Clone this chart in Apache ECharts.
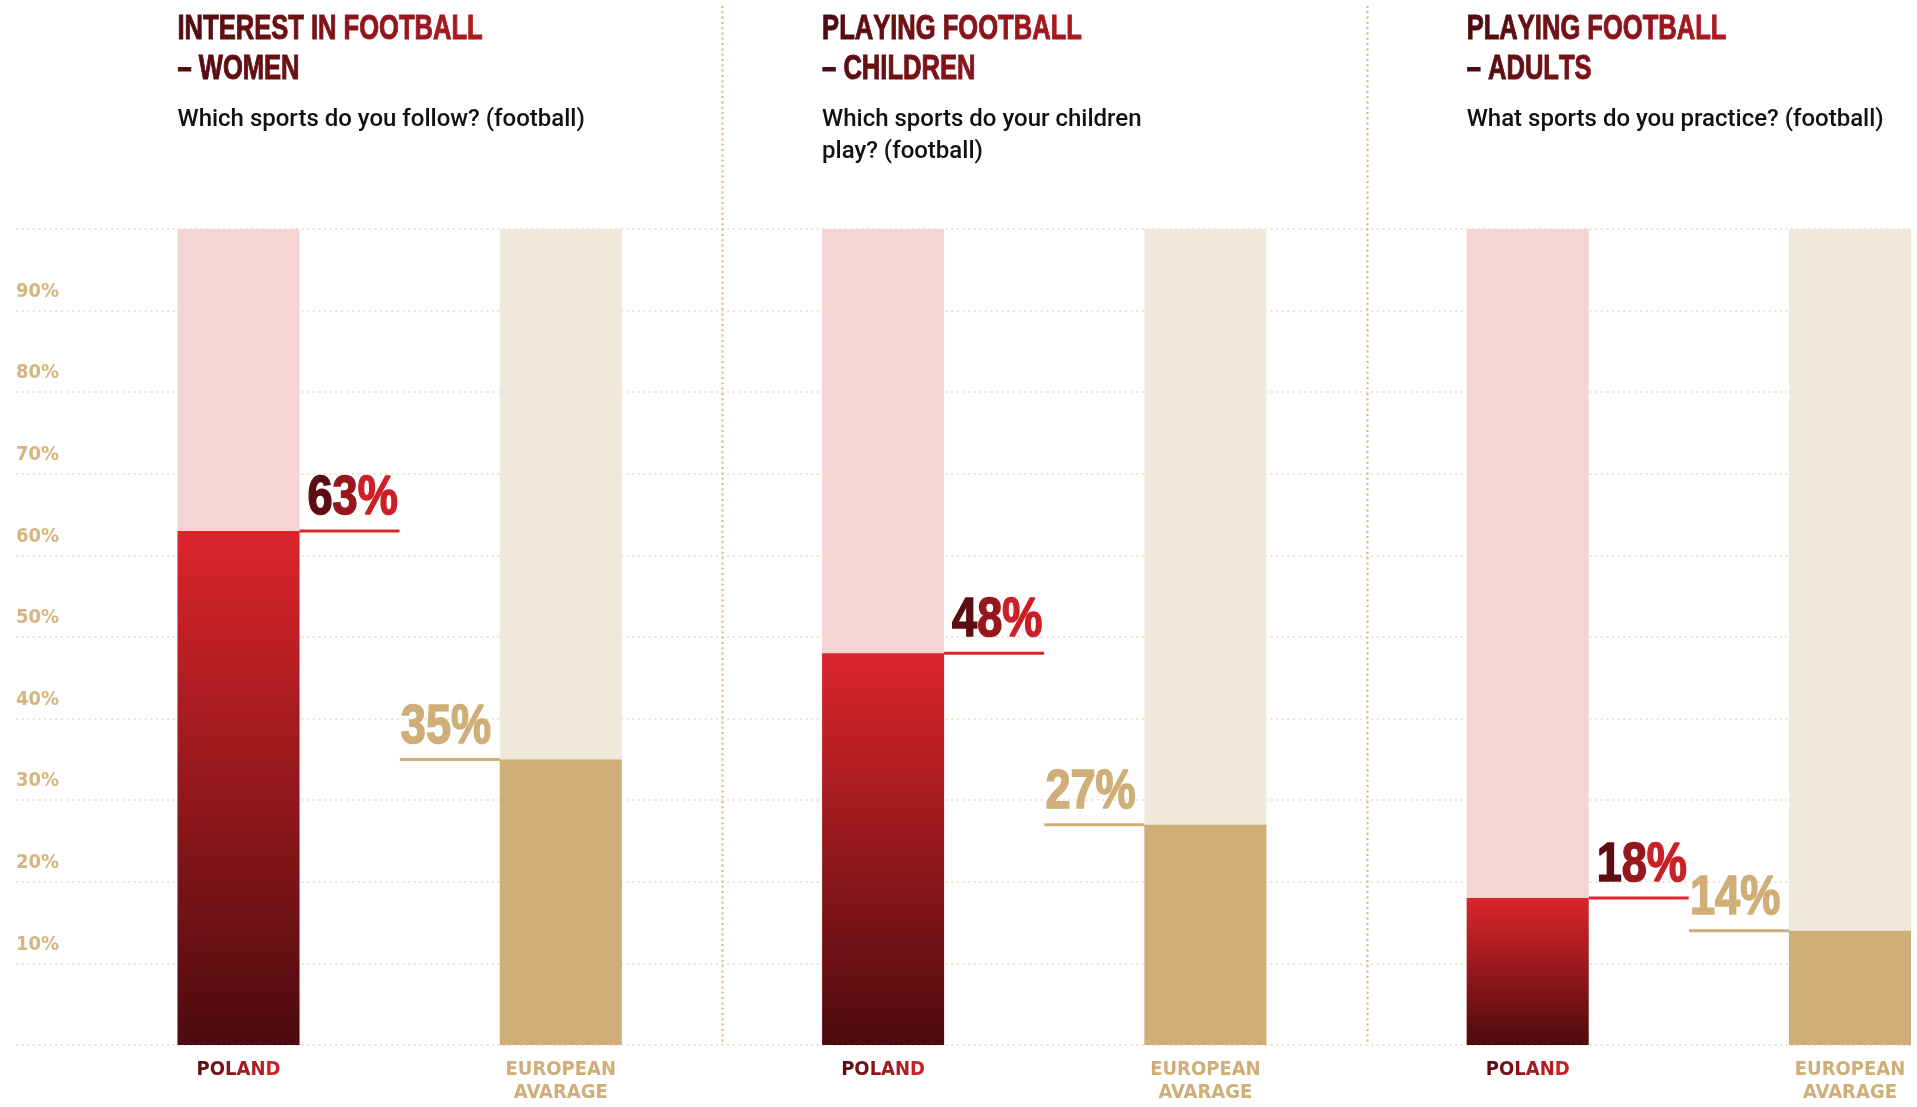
<!DOCTYPE html>
<html>
<head>
<meta charset="utf-8">
<script src="https://cdn.jsdelivr.net/npm/echarts@6/dist/echarts.min.js"></script>
<style>
html,body{margin:0;padding:0;background:#ffffff;}
#main{width:1917px;height:1107px;}
</style>
</head>
<body>
<div id="main"></div>
<script>
// ---- data ----
const categories = ['POLAND', 'EUROPEAN\nAVARAGE', 'POLAND', 'EUROPEAN\nAVARAGE', 'POLAND', 'EUROPEAN\nAVARAGE'];
const panelTitles = ['INTEREST IN FOOTBALL\n– WOMEN', 'PLAYING FOOTBALL\n– CHILDREN', 'PLAYING FOOTBALL\n– ADULTS'];
const panelQuestions = ['Which sports do you follow? (football)', 'Which sports do your children\nplay? (football)', 'What sports do you practice? (football)'];
const polandValues = [63, 48, 18];
const europeValues = [35, 27, 14];

// ---- styling ----
const COND = '"DejaVu Sans Condensed", "DejaVu Sans", sans-serif';
const BOLD = '"Liberation Sans", Arial, sans-serif';
const GOLD = '#cfae77';
const PINK_BG = '#f5d4d4';
const BEIGE_BG = '#f1e8dc';
const RED_BAR = () => new echarts.graphic.LinearGradient(0, 0, 0, 1, [
  { offset: 0, color: '#db252b' }, { offset: 1, color: '#4c0b0e' }]);
const GRID_TOP = 229, GRID_BOTTOM = 62, BAR_W = 122, LINE_W = 100;

function hex(c) { return [parseInt(c.slice(1, 3), 16), parseInt(c.slice(3, 5), 16), parseInt(c.slice(5, 7), 16)]; }
function mix(a, b, t) {
  const A = hex(a), B = hex(b);
  return 'rgb(' + A.map((v, k) => Math.round(v + (B[k] - v) * t)).join(',') + ')';
}
// horizontal colour ramp on text: one rich token per character
const STEPS = 24;
function rampRich(from, to, extra, strokeW) {
  const r = {};
  for (let k = 0; k < STEPS; k++) {
    const c = mix(from, to, k / (STEPS - 1));
    const s = Object.assign({ fill: c, color: c }, extra);
    if (strokeW) { s.stroke = c; s.lineWidth = strokeW; }
    r['g' + k] = s;
  }
  return r;
}
function rampText(text) {
  const lines = text.split('\n');
  const maxLen = Math.max.apply(null, lines.map(l => l.length));
  return lines.map(l => l.split('').map((ch, k) => {
    const step = Math.round((maxLen > 1 ? k / (maxLen - 1) : 0) * (STEPS - 1));
    return '{g' + step + '|' + ch + '}';
  }).join('')).join('\n');
}

const values = [];
polandValues.forEach((p, i) => { values.push(p); values.push(europeValues[i]); });

const chart = echarts.init(document.getElementById('main'), null, { renderer: 'canvas' });

const VALUE_FONT = 'bold 55px ' + BOLD;
const VALUE_SCALE = 0.82;
const valueRich = rampRich('#5c0d11', '#cc2029', { font: VALUE_FONT }, 1.6);

chart.setOption({
  backgroundColor: '#ffffff',
  animation: false,
  grid: [
    { left: 16, right: 6, top: GRID_TOP, bottom: GRID_BOTTOM },
    { left: 238.5, right: 67, top: GRID_TOP, bottom: GRID_BOTTOM }
  ],
  xAxis: [
    { gridIndex: 0, type: 'value', min: 0, max: 1, show: false },
    {
      gridIndex: 1, type: 'category', data: categories, boundaryGap: false,
      axisLine: { show: false }, axisTick: { show: false }, splitLine: { show: false },
      axisLabel: {
        interval: 0, margin: 13,
        formatter: (v) => v === 'POLAND' ? rampText('POLAND') : v.split('\n').map(s => '{e|' + s + '}').join('\n'),
        rich: Object.assign(
          rampRich('#5c0d11', '#cc2029', { fontSize: 20, fontFamily: COND, fontWeight: 'bold', lineHeight: 23 }),
          { e: { fontSize: 20, fontFamily: COND, fontWeight: 'bold', lineHeight: 23, color: GOLD } })
      }
    }
  ],
  yAxis: [
    {
      gridIndex: 0, type: 'value', min: 0, max: 100, interval: 10,
      axisLine: { show: false }, axisTick: { show: false },
      splitLine: { show: true, lineStyle: { color: '#efe3cf', width: 2, type: [2, 3.6] } },
      axisLabel: {
        inside: true, margin: 0, align: 'left', verticalAlign: 'bottom',
        padding: [0, 0, 8, 0], lineHeight: 22,
        fontSize: 20, fontFamily: COND, fontWeight: 'bold', color: '#d6b480',
        formatter: (v) => (v === 0 || v === 100) ? '' : v + '%'
      }
    },
    { gridIndex: 1, type: 'value', min: 0, max: 100, show: false }
  ],
  series: [
    {
      type: 'bar', xAxisIndex: 1, yAxisIndex: 1, barWidth: BAR_W, barGap: '-100%', silent: true, z: 2,
      data: categories.map((c, i) => ({ value: 100, itemStyle: { color: i % 2 === 0 ? PINK_BG : BEIGE_BG } }))
    },
    {
      type: 'bar', xAxisIndex: 1, yAxisIndex: 1, barWidth: BAR_W, barGap: '-100%', z: 3,
      data: values.map((v, i) => ({ value: v, itemStyle: { color: i % 2 === 0 ? RED_BAR() : GOLD } }))
    },
    {
      // value labels with their leader underline, placed through the axes' scales
      type: 'custom', xAxisIndex: 1, yAxisIndex: 1, z: 5, clip: false, silent: true,
      data: values.map((v, i) => [i, v]),
      renderItem: (params, api) => {
        const v = api.value(1);
        const pt = api.coord([api.value(0), v]);
        const isPoland = params.dataIndex % 2 === 0;
        const lineX = isPoland ? pt[0] + BAR_W / 2 : pt[0] - BAR_W / 2 - LINE_W;
        const textX = isPoland ? lineX + 8 : lineX + 1;
        const label = v + '%';
        return {
          type: 'group',
          children: [
            { type: 'rect', shape: { x: lineX, y: pt[1] - 1.5, width: LINE_W, height: 3 }, style: { fill: isPoland ? '#e0232b' : GOLD } },
            {
              type: 'text', x: textX, y: pt[1] - 32, scaleX: VALUE_SCALE, originX: 0, originY: 0,
              style: isPoland
                ? { text: rampText(label), rich: valueRich, font: VALUE_FONT, fill: '#8f151b', align: 'left', verticalAlign: 'middle' }
                : { text: label, font: VALUE_FONT, fill: GOLD, stroke: GOLD, lineWidth: 1.6, align: 'left', verticalAlign: 'middle' }
            }
          ]
        };
      }
    }
  ]
});

// ---- panel titles, questions and separators positioned from the axis scale ----
const xs = categories.map((c, i) => chart.convertToPixel({ xAxisIndex: 1 }, i));
const yZero = chart.convertToPixel({ yAxisIndex: 1 }, 0);
const TITLE_FONT = 'bold 35px ' + BOLD;
const titleRich = rampRich('#4f0c0f', '#ad1a21', { font: TITLE_FONT, lineHeight: 40 }, 1);
const graphics = [];
panelTitles.forEach((t, p) => {
  const left = xs[2 * p] - BAR_W / 2;
  graphics.push({
    type: 'text', x: left, y: 9, z: 10, scaleX: 0.73, originX: 0, originY: 0,
    style: { text: rampText(t), rich: titleRich, font: TITLE_FONT, lineHeight: 40, fill: '#7a1116', verticalAlign: 'top', align: 'left' }
  });
  graphics.push({
    type: 'text', x: left, y: 104, z: 10,
    style: { text: panelQuestions[p], font: '500 24px Roboto, "Noto Sans", sans-serif', lineHeight: 32, fill: '#111111', verticalAlign: 'top', align: 'left' }
  });
  if (p < panelTitles.length - 1) {
    const sx = Math.round((xs[2 * p + 1] + xs[2 * p + 2]) / 2) + 0.5;
    graphics.push({
      type: 'line', z: 10, silent: true,
      shape: { x1: sx, y1: 6, x2: sx, y2: yZero },
      style: { stroke: '#dcb272', lineWidth: 2, lineDash: [2, 3.3] }
    });
  }
});
chart.setOption({ graphic: graphics });
</script>
</body>
</html>
